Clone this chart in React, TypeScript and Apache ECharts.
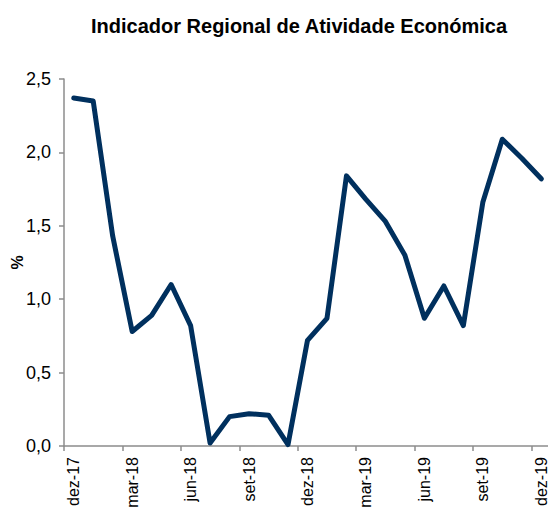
import React, { useEffect, useRef } from "react";
import * as echarts from "echarts";

const months = [
  "dez-17", "jan-18", "fev-18", "mar-18", "abr-18", "mai-18", "jun-18", "jul-18", "ago-18", "set-18", "out-18", "nov-18",
  "dez-18", "jan-19", "fev-19", "mar-19", "abr-19", "mai-19", "jun-19", "jul-19", "ago-19", "set-19", "out-19", "nov-19",
  "dez-19",
];

const values = [
  2.37, 2.35, 1.43, 0.78, 0.89, 1.1, 0.82, 0.02, 0.2, 0.22, 0.21, 0.01,
  0.72, 0.87, 1.84, 1.68, 1.53, 1.3, 0.87, 1.09, 0.82, 1.66, 2.09, 1.96,
  1.82,
];

const titleText = "Indicador Regional de Atividade Económica";
const yName = "%";

export default function App() {
  const ref = useRef<HTMLDivElement>(null);
  useEffect(() => {
    if (!ref.current) return;
    const chart = echarts.init(ref.current, null, { renderer: "svg" });
    const font = "Liberation Sans, Arial, sans-serif";
    chart.setOption({
      animation: false,
      backgroundColor: "#ffffff",
      title: {
        text: titleText,
        left: 86,
        top: 11,
        textStyle: { fontFamily: font, fontSize: 20, fontWeight: "bold", color: "#000000" },
      },
      grid: { left: 64, right: 0, top: 79, bottom: 68, containLabel: false, outerBoundsMode: "none" },
      xAxis: {
        type: "category",
        data: months,
        boundaryGap: true,
        axisLine: { show: true, lineStyle: { color: "#8c8c8c", width: 1.5 } },
        axisTick: { show: true, interval: 2, length: 5, lineStyle: { color: "#8c8c8c", width: 1.5 } },
        axisLabel: {
          interval: 2,
          rotate: 90,
          margin: 11,
          fontFamily: font,
          fontSize: 16,
          color: "#000000",
        },
      },
      yAxis: {
        type: "value",
        min: 0,
        max: 2.5,
        interval: 0.5,
        name: yName,
        nameLocation: "middle",
        nameRotate: 90,
        nameGap: 39,
        nameMoveOverlap: false,
        nameTextStyle: { fontFamily: font, fontSize: 16, fontWeight: "bold", color: "#000000" },
        splitLine: { show: false },
        axisLine: { show: true, lineStyle: { color: "#8c8c8c", width: 1.5 } },
        axisTick: { show: true, inside: false, length: 5, lineStyle: { color: "#8c8c8c", width: 1.5 } },
        axisLabel: {
          margin: 13,
          fontFamily: font,
          fontSize: 18,
          color: "#000000",
          formatter: (v: number) => v.toFixed(1).replace(".", ","),
        },
      },
      series: [
        {
          type: "line",
          data: values,
          symbol: "none",
          lineStyle: { color: "#00305e", width: 5, cap: "round", join: "round" },
        },
      ],
    });
    return () => chart.dispose();
  }, []);
  return (
    <div style={{ position: "fixed", left: 0, top: 0, width: 548, height: 514, overflow: "hidden", background: "#fff" }}>
      <div ref={ref} style={{ width: 551, height: 514 }} />
    </div>
  );
}
